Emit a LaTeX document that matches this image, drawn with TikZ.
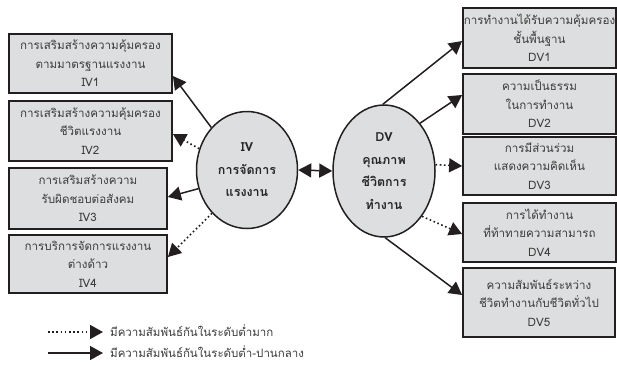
\documentclass[tikz,border=0pt]{standalone}
\usepackage{fontspec}
\setmainfont{Liberation Sans}
\newfontfamily\thaifont[Script=Thai]{Loma}
\usetikzlibrary{arrows.meta,shapes.geometric,calc}
\definecolor{boxgray}{RGB}{221,222,223}
\definecolor{edge}{RGB}{35,31,32}
\definecolor{txt}{RGB}{60,60,60}
\tikzset{
  varbox/.style={draw=edge, line width=1.8pt, fill=boxgray, rectangle, inner sep=0pt,
    align=center, font=\thaifont\fontsize{11.6}{18.5}\selectfont, text=txt},
  varell/.style={draw=edge, line width=1.5pt, fill=boxgray, ellipse, inner sep=0pt,
    align=center, font=\thaifont\bfseries\fontsize{12.5}{22.5}\selectfont, text=black!85},
  solidarr/.style={draw=edge, line width=1.5pt, -{Triangle[length=13pt,width=14pt]}},
  dotarr/.style={draw=edge, line width=1.6pt, dash pattern=on 1.6pt off 2.6pt, -{Triangle[length=13pt,width=14pt]}},
  legtext/.style={anchor=west, font=\thaifont\fontsize{11.5}{13}\selectfont, text=txt, inner sep=0pt}
}
\begin{document}
\begin{tikzpicture}[x=1pt,y=-1pt]
\useasboundingbox (0,0) rectangle (617,365);
% left boxes
\node[varbox, minimum width=163pt, minimum height=59pt] (iv1) at (90.5,63.5) {การเสริมสร้างความคุ้มครอง\\ตามมาตรฐานแรงงาน\\IV1};
\node[varbox, minimum width=163pt, minimum height=60pt] (iv2) at (90.5,131) {การเสริมสร้างความคุ้มครอง\\ชีวิตแรงงาน\\IV2};
\node[varbox, minimum width=158pt, minimum height=61pt] (iv3) at (88,198.5) {การเสริมสร้างความ\\รับผิดชอบต่อสังคม\\IV3};
\node[varbox, minimum width=158pt, minimum height=58pt] (iv4) at (88,264) {การบริการจัดการแรงงาน\\ต่างด้าว\\IV4};
% right boxes
\node[varbox, minimum width=153pt, minimum height=60pt] (dv1) at (539.5,38) {การทำงานได้รับความคุ้มครอง\\ชั้นพื้นฐาน\\DV1};
\node[varbox, minimum width=153pt, minimum height=60pt] (dv2) at (539.5,104) {ความเป็นธรรม\\ในการทำงาน\\DV2};
\node[varbox, minimum width=153pt, minimum height=58pt] (dv3) at (539.5,166) {การมีส่วนร่วม\\แสดงความคิดเห็น\\DV3};
\node[varbox, minimum width=153pt, minimum height=59pt] (dv4) at (539.5,232.5) {การได้ทำงาน\\ที่ท้าทายความสามารถ\\DV4};
\node[varbox, minimum width=152pt, minimum height=69pt] (dv5) at (539,302.5) {ความสัมพันธ์ระหว่าง\\ชีวิตทำงานกับชีวิตทั่วไป\\DV5};
% ellipses
\node[varell, minimum width=101pt, minimum height=117pt] (iv) at (247,170) {IV\\การจัดการ\\แรงงาน};
\node[varell, minimum width=102pt, minimum height=132pt] (dv) at (384,171) {DV\\คุณภาพ\\ชีวิตการ\\ทำงาน};
% connectors
\draw[solidarr] (iv.130) -- ([yshift=-12.5pt]iv1.east);
\draw[dotarr] (iv.156) -- ([yshift=-3pt]iv2.east);
\draw[solidarr] (iv.201) -- ([yshift=1.5pt]iv3.east);
\draw[dotarr] (iv.231) -- ([yshift=7pt]iv4.east);
\draw[draw=edge, line width=1.5pt, {Triangle[length=13pt,width=14pt]}-{Triangle[length=13pt,width=14pt]}] (iv.east) -- (dv.west);
\draw[solidarr] (dv.91) -- ([yshift=-3pt]dv1.west);
\draw[solidarr] (dv.53) -- ([yshift=9pt]dv2.west);
\draw[dotarr] (dv.7) -- (dv3.west);
\draw[dotarr] (dv.-50) -- ([yshift=-1.5pt]dv4.west);
\draw[solidarr] (dv.-89) -- ([yshift=7.5pt]dv5.west);
% legend
\coordinate (l1s) at (48,332);
\coordinate (l1e) at (103,332);
\coordinate (l2s) at (48,353);
\coordinate (l2e) at (103,353);
\draw[dotarr] (l1s) -- (l1e);
\draw[solidarr] (l2s) -- (l2e);
\node[legtext] (lt1) at (110,331) {มีความสัมพันธ์กันในระดับต่ำมาก};
\node[legtext] (lt2) at (110,352) {มีความสัมพันธ์กันในระดับต่ำ-ปานกลาง};
\end{tikzpicture}
\end{document}
